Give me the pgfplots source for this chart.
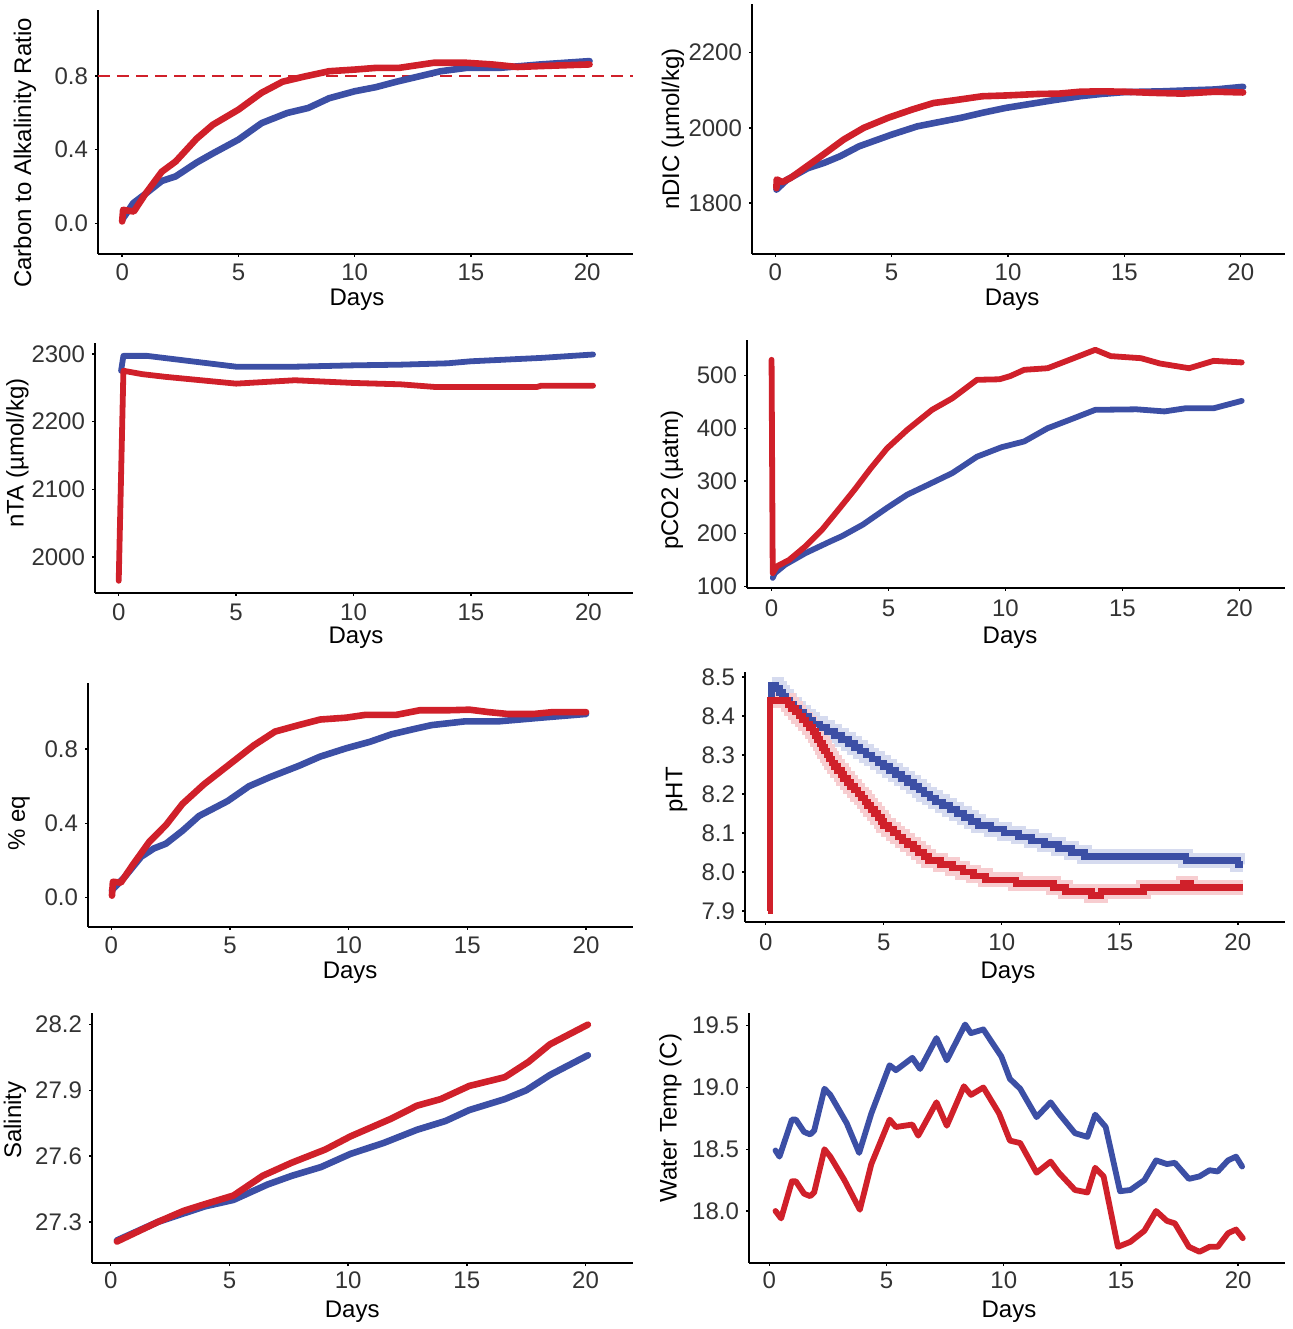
\documentclass[border=0pt]{standalone}
\usepackage{fontspec}
\setmainfont{Liberation Sans}
\usepackage{pgfplots}
\usepackage{pgfplotstable}
\pgfplotsset{compat=1.18}
\definecolor{cblue}{HTML}{3C4FA5}
\definecolor{cred}{HTML}{D0202A}
\definecolor{lblue}{HTML}{D6DBEF}
\definecolor{lred}{HTML}{F7CDD0}
\definecolor{tickgray}{HTML}{333333}

\pgfplotstableread{
x y
0.15 8.44
0.25 8.48
0.44 8.47
0.58 8.46
0.72 8.45
0.86 8.44
1.0 8.43
1.2 8.42
1.4 8.41
1.6 8.40
1.8 8.39
2.0 8.38
2.3 8.37
2.6 8.36
2.9 8.35
3.2 8.34
3.5 8.33
3.75 8.32
4.0 8.31
4.25 8.30
4.5 8.29
4.75 8.28
5.0 8.27
5.25 8.26
5.5 8.25
5.75 8.24
6.0 8.23
6.25 8.22
6.5 8.21
6.7 8.20
6.95 8.19
7.2 8.18
7.5 8.17
7.8 8.16
8.1 8.15
8.4 8.14
8.7 8.13
9.0 8.12
9.55 8.11
10.1 8.10
10.7 8.09
11.25 8.08
11.8 8.07
12.4 8.06
12.95 8.05
13.5 8.04
17.8 8.03
20.0 8.02
20.2 8.02
}\phblue

\pgfplotstableread{
x y
0.1 7.90
0.18 8.44
0.95 8.43
1.1 8.42
1.25 8.41
1.4 8.40
1.55 8.39
1.7 8.38
1.85 8.37
2.0 8.36
2.1 8.35
2.2 8.34
2.3 8.33
2.4 8.32
2.5 8.31
2.6 8.30
2.7 8.29
2.8 8.28
2.9 8.27
3.05 8.26
3.2 8.25
3.3 8.24
3.45 8.23
3.6 8.22
3.75 8.21
3.9 8.20
4.05 8.19
4.2 8.18
4.3 8.17
4.45 8.16
4.6 8.15
4.75 8.14
4.9 8.13
5.0 8.12
5.2 8.11
5.4 8.10
5.6 8.09
5.8 8.08
6.0 8.07
6.25 8.06
6.45 8.05
6.7 8.04
6.9 8.03
7.4 8.02
7.9 8.01
8.35 8.00
8.8 7.99
9.3 7.98
10.6 7.97
12.2 7.96
12.7 7.95
13.8 7.94
14.2 7.95
16.0 7.96
17.7 7.97
18.0 7.96
20.2 7.96
}\phred

\pgfplotsset{
 panel/.style={
  scale only axis, anchor=south west,
  axis x line*=bottom, axis y line*=left,
  axis line style={-, line width=1.1pt, black},
  tick align=outside, major tick length=1.5pt,
  tick style={black, line width=0.7pt},
  xtick={0,5,10,15,20}, xticklabels={0,5,10,15,20},
  ticklabel style={font=\fontsize{12}{14}\selectfont, text=tickgray},
  yticklabel style={anchor=east},
  label style={font=\fontsize{12}{14}\selectfont, text=black},
  xlabel={Days},
  /pgf/number format/assume math mode=true,
 },
 xl/.style n args={3}{
  xticklabel style={anchor=center, yshift=-#1},
  xlabel style={at={([yshift=-#2]axis description cs:#3,0)}, anchor=center},
 },
 yl/.style n args={2}{
  ylabel style={at={([xshift=-#1]axis description cs:0,#2)}, anchor=center},
 },
 bl/.style={cblue, line width=3.3pt, line join=round, line cap=round},
 rd/.style={cred, line width=3.3pt, line join=round, line cap=round},
}

\begin{document}
\begin{tikzpicture}
\path[use as bounding box] (0,0) rectangle (646.5pt,664.5pt);

% Panel 1
\begin{axis}[panel, at={(49pt,537.5pt)}, width=267.5pt, height=122pt,
  xmin=-1.04, xmax=21.97, ymin=-0.167, ymax=1.16,
  ytick={0,0.4,0.8}, yticklabels={0.0,0.4,0.8},
  ylabel={Carbon to Alkalinity Ratio},
  xl={7.5pt}{23pt}{0.484}, yl={36.5pt}{0.414}]
\addplot[cred, line width=1.1pt, dash pattern=on 6pt off 3.5pt] coordinates {(-1.04,0.8) (21.97,0.8)};
\addplot[bl] coordinates {(0,0.02) (0.48,0.11) (1.0,0.16) (1.7,0.23) (2.3,0.255) (3.2,0.33) (3.9,0.38) (5.0,0.455) (6.0,0.545) (7.1,0.60) (8.0,0.627) (8.9,0.68) (10.0,0.718) (10.9,0.74) (11.8,0.77) (12.8,0.80) (13.7,0.827) (14.8,0.845) (16.2,0.845) (18.0,0.864) (20.1,0.882)};
\addplot[rd] coordinates {(0,0.01) (0.04,0.073) (0.5,0.064) (1.0,0.16) (1.7,0.28) (2.3,0.336) (3.2,0.46) (3.9,0.536) (5.0,0.618) (6.0,0.71) (6.9,0.77) (7.8,0.797) (8.9,0.827) (10.0,0.836) (10.9,0.845) (11.9,0.845) (13.4,0.873) (14.8,0.873) (15.9,0.864) (17.0,0.85) (18.0,0.855) (20.1,0.864)};
\end{axis}

% Panel 2
\begin{axis}[panel, at={(376pt,537.5pt)}, width=266.5pt, height=125pt,
  xmin=-1.0, xmax=21.9, ymin=1665, ymax=2329,
  ytick={1800,2000,2200}, yticklabels={1800,2000,2200},
  ylabel={nDIC (µmol/kg)},
  xl={7.5pt}{23pt}{0.488}, yl={39.5pt}{0.5}]
\addplot[bl] coordinates {(0.05,1836) (0.5,1862) (1.4,1893) (2.1,1907) (2.8,1925) (3.6,1951) (5.0,1982) (6.1,2004) (7.0,2015) (8.0,2027) (8.9,2040) (9.9,2053) (10.8,2062) (11.9,2073) (13.1,2084) (14.0,2090) (15.0,2095) (16.6,2097) (17.5,2099) (18.9,2102) (20.1,2109)};
\addplot[rd] coordinates {(0.05,1840) (0.06,1863) (0.3,1856) (0.66,1867) (1.36,1898) (2.06,1929) (2.94,1969) (3.8,2000) (4.86,2027) (5.9,2049) (6.8,2066) (7.66,2073) (8.9,2084) (9.9,2086) (11.3,2090) (12.2,2091) (13.1,2096) (14.0,2097) (15.0,2096) (16.2,2093) (17.5,2091) (18.9,2096) (20.1,2094)};
\end{axis}

% Panel 3
\begin{axis}[panel, at={(47.5pt,368pt)}, width=269pt, height=125pt,
  xmin=-1.01, xmax=21.9, ymin=1947, ymax=2316,
  ytick={2000,2100,2200,2300}, yticklabels={2000,2100,2200,2300},
  ylabel={nTA (µmol/kg)},
  xl={8pt}{22.5pt}{0.485}, yl={38.75pt}{0.56}]
\addplot[bl, line width=2.9pt] coordinates {(0.1,2275) (0.2,2297) (1.2,2297) (5.0,2281) (7.5,2281) (10,2283) (12,2284) (14,2286) (15,2289) (18,2294) (20.2,2299)};
\addplot[rd, line width=2.9pt] coordinates {(0,1965) (0.2,2275) (1,2270) (2,2266) (5,2256) (7,2260) (7.5,2261) (10,2257) (12,2255) (13.5,2251) (17.8,2251) (18,2253) (20.2,2253)};
\end{axis}

% Panel 4
\begin{axis}[panel, at={(373.5pt,370.5pt)}, width=269pt, height=124pt,
  xmin=-1.05, xmax=21.95, ymin=96.8, ymax=567.6,
  ytick={100,200,300,400,500}, yticklabels={100,200,300,400,500},
  ylabel={pCO2 (µatm)},
  xl={8.5pt}{25pt}{0.489}, yl={37.5pt}{0.435}]
\addplot[bl, line width=2.9pt] coordinates {(0.05,116) (0.14,125) (0.58,141) (1.45,163) (2.5,185) (3.0,195) (3.9,217) (4.94,249) (5.8,274) (6.7,293) (7.73,315) (8.78,346) (9.83,364) (10.8,375) (11.8,400) (12.8,417) (13.84,435) (15.6,436) (16.8,432) (17.7,438) (18.9,438) (20.1,452)};
\addplot[rd, line width=2.9pt] coordinates {(0,530) (0.05,125) (0.23,138) (0.75,150) (1.45,176) (2.15,207) (2.85,245) (3.54,283) (4.24,324) (4.94,362) (5.8,397) (6.86,435) (7.73,457) (8.78,492) (9.74,493) (10.2,499) (10.8,511) (11.8,514) (12.8,531) (13.84,549) (14.5,537) (15.8,533) (16.6,523) (17.85,514) (18.9,528) (20.1,525)};
\end{axis}

% Panel 5
\begin{axis}[panel, at={(44pt,201pt)}, width=272.5pt, height=122pt,
  xmin=-0.98, xmax=21.98, ymin=-0.159, ymax=1.157,
  ytick={0,0.4,0.8}, yticklabels={0.0,0.4,0.8},
  ylabel={\% eq},
  xl={7.5pt}{23pt}{0.481}, yl={34.5pt}{0.426}]
\addplot[bl] coordinates {(0.03,0.04) (0.56,0.11) (1.26,0.22) (1.8,0.265) (2.3,0.29) (3.0,0.36) (3.7,0.44) (4.9,0.52) (5.8,0.60) (6.7,0.65) (7.9,0.71) (8.8,0.76) (9.9,0.805) (10.9,0.84) (11.8,0.88) (12.8,0.91) (13.5,0.93) (14.2,0.94) (14.9,0.95) (16.3,0.95) (18.1,0.97) (20.0,0.99)};
\addplot[rd] coordinates {(0.03,0.01) (0.07,0.085) (0.4,0.08) (0.9,0.175) (1.6,0.30) (2.3,0.39) (3.0,0.505) (3.9,0.61) (4.95,0.715) (6.0,0.82) (6.9,0.895) (7.9,0.93) (8.8,0.96) (9.9,0.97) (10.7,0.985) (12.0,0.985) (13.0,1.01) (14.2,1.01) (15.1,1.013) (15.9,1.0) (16.7,0.99) (17.8,0.99) (18.6,1.0) (20.0,1.0)};
\end{axis}

% Panel 6
\begin{axis}[panel, at={(372.5pt,203.5pt)}, width=270pt, height=125pt,
  xmin=-0.88, xmax=22.0, ymin=7.872, ymax=8.513,
  ytick={7.9,8.0,8.1,8.2,8.3,8.4,8.5}, yticklabels={7.9,8.0,8.1,8.2,8.3,8.4,8.5},
  ylabel={pHT},
  xl={8.5pt}{25.5pt}{0.487}, yl={34.25pt}{0.528}]
\addplot[lblue, line width=7.5pt, const plot, skip coords between index={0}{1}] table {\phblue};
\addplot[lred, line width=7.5pt, const plot, skip coords between index={0}{1}] table {\phred};
\addplot[bl, line cap=butt, line join=miter, const plot] table {\phblue};
\addplot[rd, line cap=butt, line join=miter, const plot] table {\phred};
\end{axis}

% Panel 7
\begin{axis}[panel, at={(46pt,33pt)}, width=270.5pt, height=125pt,
  xmin=-0.79, xmax=22.0, ymin=27.112, ymax=28.253,
  ytick={27.3,27.6,27.9,28.2}, yticklabels={27.3,27.6,27.9,28.2},
  ylabel={Salinity},
  xl={7pt}{24.5pt}{0.481}, yl={38.5pt}{0.572}]
\addplot[bl] coordinates {(0.26,27.215) (2.0,27.30) (3.95,27.37) (5.17,27.40) (6.6,27.47) (7.63,27.51) (8.86,27.55) (10.1,27.61) (11.5,27.66) (12.9,27.72) (14.1,27.76) (15.1,27.81) (16.6,27.86) (17.5,27.90) (18.5,27.97) (20.1,28.06)};
\addplot[rd] coordinates {(0.26,27.21) (2.0,27.30) (3.07,27.35) (3.95,27.38) (5.17,27.42) (6.4,27.51) (7.63,27.57) (9.04,27.63) (10.1,27.69) (11.8,27.77) (12.9,27.83) (13.9,27.86) (15.1,27.92) (16.6,27.96) (17.6,28.03) (18.5,28.11) (20.1,28.2)};
\end{axis}

% Panel 8
\begin{axis}[panel, at={(374.5pt,33pt)}, width=268pt, height=125pt,
  xmin=-0.87, xmax=22.0, ymin=17.579, ymax=19.603,
  ytick={18.0,18.5,19.0,19.5}, yticklabels={18.0,18.5,19.0,19.5},
  ylabel={Water Temp (C)},
  xl={7pt}{24.5pt}{0.485}, yl={39.25pt}{0.58}]
\addplot[bl, line width=2.9pt] coordinates {(0.26,18.49) (0.43,18.44) (0.96,18.74) (1.13,18.74) (1.48,18.64) (1.74,18.62) (1.91,18.65) (2.35,18.99) (2.6,18.94) (3.3,18.71) (3.83,18.47) (4.35,18.79) (5.13,19.18) (5.4,19.14) (6.1,19.24) (6.43,19.15) (7.13,19.4) (7.57,19.22) (8.35,19.51) (8.6,19.44) (9.13,19.47) (9.9,19.25) (10.26,19.07) (10.7,18.99) (11.4,18.76) (12.0,18.88) (12.35,18.79) (13.04,18.63) (13.57,18.6) (13.9,18.78) (14.35,18.68) (14.96,18.16) (15.4,18.17) (16.0,18.25) (16.5,18.41) (16.96,18.38) (17.3,18.39) (17.9,18.26) (18.35,18.28) (18.78,18.33) (19.13,18.32) (19.57,18.41) (19.91,18.44) (20.17,18.36)};
\addplot[rd, line width=2.9pt] coordinates {(0.26,18.0) (0.5,17.94) (0.96,18.24) (1.13,18.24) (1.48,18.14) (1.74,18.12) (1.91,18.15) (2.35,18.5) (2.6,18.44) (3.2,18.25) (3.86,18.01) (4.35,18.38) (5.13,18.74) (5.4,18.68) (6.1,18.7) (6.35,18.61) (7.13,18.88) (7.57,18.69) (8.3,19.01) (8.6,18.94) (9.13,19.0) (9.8,18.79) (10.26,18.57) (10.7,18.55) (11.4,18.31) (12.0,18.4) (12.35,18.31) (13.04,18.17) (13.57,18.15) (13.9,18.35) (14.26,18.28) (14.87,17.71) (15.4,17.75) (16.0,17.84) (16.5,18.0) (16.96,17.92) (17.3,17.9) (17.9,17.71) (18.35,17.67) (18.78,17.71) (19.13,17.71) (19.57,17.82) (19.91,17.85) (20.2,17.78)};
\end{axis}
\end{tikzpicture}
\end{document}
